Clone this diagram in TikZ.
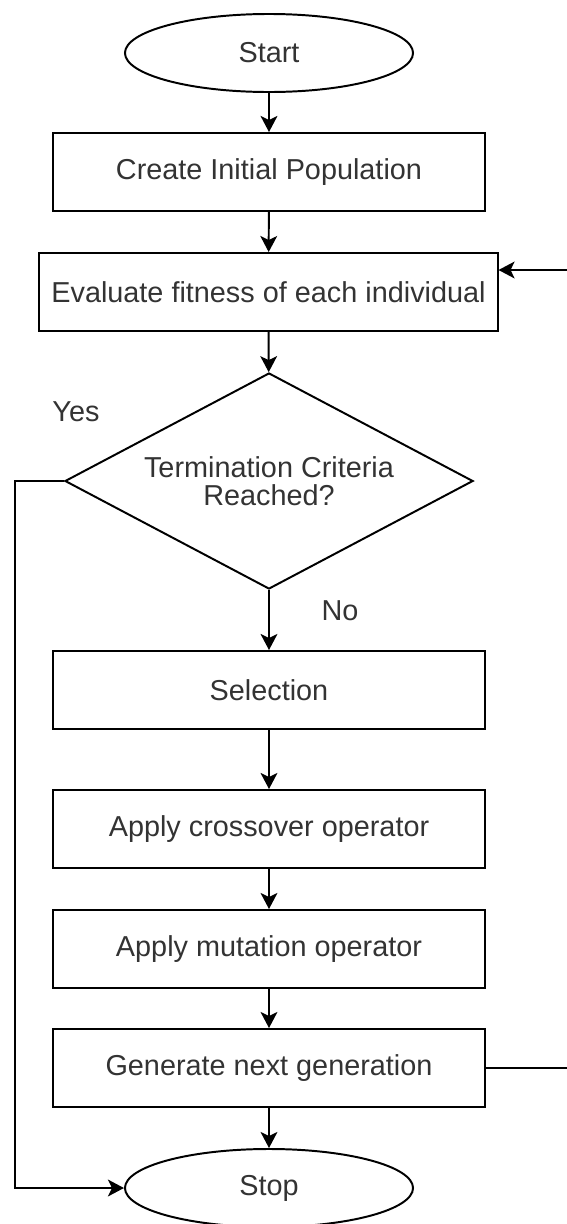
\documentclass[tikz,border=0pt]{standalone}
\usepackage{fontspec}
\setmainfont{Liberation Sans}
\usetikzlibrary{shapes.geometric,arrows.meta}
\begin{document}
\begin{tikzpicture}[x=0.025cm,y=-0.025cm,line width=1.4pt,
  font=\fontsize{20.5}{20}\selectfont,
  term/.style={draw,ellipse,minimum width=7.2cm,minimum height=1.95cm,inner sep=0pt,text=black!80},
  proc/.style={draw,rectangle,minimum width=10.8cm,minimum height=1.95cm,inner sep=0pt,text=black!80},
  decide/.style={draw,diamond,aspect=1.88,minimum width=10.2cm,minimum height=5.4cm,inner sep=0pt,align=center,text=black!80},
  lbl/.style={text=black!80},
  arr/.style={-{Stealth[length=0.4cm,width=0.42cm,inset=0.1cm]}}]
\useasboundingbox (0,0) rectangle (566,1224);
\node[term] (start) at (269,53) {Start};
\node[proc] (init) at (269,172) {Create Initial Population};
\node[proc,minimum width=11.45cm] (eval) at (268.5,292) {Evaluate fitness of each individual};
\node[decide] (dec) at (269,481) {Termination Criteria\\Reached?};
\node[proc] (sel) at (269,690) {Selection};
\node[proc] (cross) at (269,829) {Apply crossover operator};
\node[proc] (mut) at (269,949) {Apply mutation operator};
\node[proc] (gen) at (269,1068) {Generate next generation};
\node[term] (stop) at (269,1188) {Stop};
\node[lbl] (yes) at (76,412) {Yes};
\node[lbl] (no) at (340,611) {No};
\coordinate (loop) at (610,270);
% main flow
\draw[arr] (start) -- (init);
\draw[arr] (init) -- (eval);
\draw[arr] (eval) -- (dec);
\draw[arr] (dec) -- (sel);
\draw[arr] (sel) -- (cross);
\draw[arr] (cross) -- (mut);
\draw[arr] (mut) -- (gen);
\draw[arr] (gen) -- (stop);
% yes branch and loop back
\draw[arr] (dec.west) -- ++(-49,0) |- (stop.west);
\draw[arr] (gen.east) -| (loop) -- (eval.east |- loop);
\end{tikzpicture}
\end{document}
